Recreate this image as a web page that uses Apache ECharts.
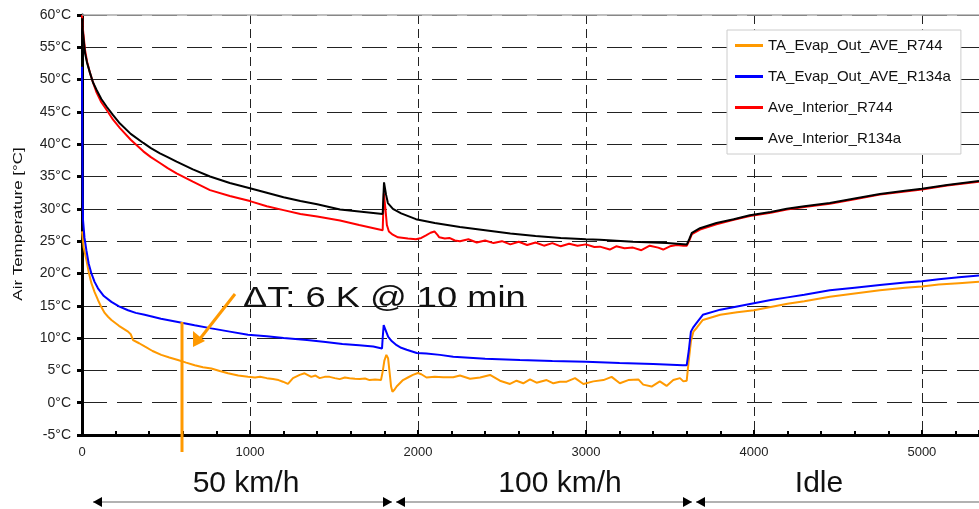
<!DOCTYPE html>
<html>
<head>
<meta charset="utf-8">
<script src="https://cdn.jsdelivr.net/npm/echarts@6/dist/echarts.min.js"></script>
<style>
  html, body { margin: 0; padding: 0; background: #fff; }
  #main { width: 979px; height: 509px; }
</style>
</head>
<body>
<div id="main"></div>
<script type="text/javascript">
// legend names
var seriesNames = ['TA_Evap_Out_AVE_R744', 'TA_Evap_Out_AVE_R134a', 'Ave_Interior_R744', 'Ave_Interior_R134a'];
var seriesColors = ['#ff9900', '#0000ff', '#ff0000', '#000000'];

// [time s, temperature °C]
var evapR744 = [
  [0,26.5],[10,24],[26,22.1],[40,20.2],[56,18.5],[75,17.1],[95,15.9],[115,14.8],[135,13.9],[155,13.3],[175,12.8],
  [220,11.9],[274,11.0],[290,10.6],[304,9.7],[340,9.2],[373,8.7],[420,8.0],[472,7.4],[520,7.0],[571,6.6],[620,6.2],
  [671,5.8],[720,5.5],[770,5.3],[820,4.9],[869,4.55],[930,4.2],[988,4.0],[1030,3.9],[1060,4.0],[1100,3.8],[1137,3.65],
  [1170,3.5],[1196,3.25],[1226,2.9],[1256,3.8],[1296,4.3],[1325,4.55],[1365,4.0],[1390,4.2],[1415,3.8],[1445,4.0],
  [1474,4.0],[1505,3.8],[1534,3.65],[1565,3.9],[1593,3.8],[1625,3.7],[1653,3.65],[1685,3.75],[1712,3.5],[1745,3.6],
  [1780,3.5],[1790,4.8],[1800,6.5],[1812,7.4],[1822,6.9],[1832,4.5],[1840,2.5],[1848,1.7],[1860,2.0],[1873,2.5],
  [1911,3.5],[1940,3.9],[1970,4.3],[2000,4.6],[2020,4.4],[2051,3.9],[2100,4.0],[2150,3.95],[2210,3.95],[2250,4.2],
  [2310,3.7],[2370,3.9],[2429,4.3],[2488,3.4],[2548,2.9],[2587,3.4],[2627,3.0],[2667,3.6],[2706,3.1],[2766,3.5],
  [2806,3.0],[2845,3.25],[2885,3.25],[2935,3.8],[2985,2.9],[3044,3.3],[3104,3.5],[3153,4.0],[3202,3.0],[3252,3.5],
  [3312,3.6],[3341,2.8],[3391,2.5],[3440,3.3],[3480,2.6],[3520,3.5],[3560,3.8],[3580,3.3],[3600,3.4],[3610,6],
  [3625,9.5],[3640,11],[3660,11.6],[3696,12.8],[3800,13.6],[3900,14.0],[4000,14.3],[4100,14.8],[4200,15.3],
  [4300,15.7],[4452,16.4],[4600,16.9],[4750,17.4],[4900,17.8],[5000,18.0],[5100,18.3],[5220,18.5],[5340,18.7]
];

var evapR134a = [
  [0,52],[2,40],[4,32],[6,28.3],[15,25.5],[26,23.6],[40,21.5],[56,20.0],[75,18.7],[95,17.7],[130,16.5],[175,15.6],
  [220,14.9],[274,14.3],[320,13.9],[373,13.6],[470,13.0],[571,12.5],[670,12.0],[770,11.5],[880,11.0],[988,10.5],
  [1100,10.3],[1200,10.0],[1339,9.7],[1450,9.4],[1550,9.1],[1650,8.9],[1734,8.7],[1786,8.4],[1790,10],[1796,12.0],
  [1805,11.4],[1823,10.2],[1845,9.5],[1873,8.9],[1900,8.5],[1933,8.2],[1993,7.7],[2050,7.6],[2131,7.4],[2210,7.1],
  [2400,6.8],[2607,6.6],[2800,6.45],[3000,6.35],[3200,6.15],[3400,6.0],[3577,5.8],[3600,5.8],[3612,8],[3625,11.0],
  [3640,11.7],[3660,12.4],[3696,13.6],[3800,14.4],[3900,14.9],[4000,15.4],[4100,15.9],[4200,16.3],[4300,16.7],
  [4452,17.4],[4600,17.8],[4750,18.2],[4900,18.6],[5000,18.8],[5100,19.1],[5220,19.4],[5340,19.7]
];

var interiorR744 = [
  [0,60],[4,58.2],[18,54.6],[30,52.8],[48,51.0],[65,49.6],[87,48.0],[115,46.5],[147,45.3],[185,43.8],[226,42.5],
  [290,40.7],[365,38.9],[410,38.0],[464,37.1],[510,36.3],[563,35.5],[660,34.2],[762,32.9],[880,32.0],[1000,31.2],
  [1100,30.4],[1200,29.8],[1300,29.2],[1400,28.8],[1536,28.2],[1650,27.5],[1790,26.7],[1797,32.4],[1806,30.1],
  [1815,27.5],[1827,26.5],[1850,26.0],[1881,25.6],[1940,25.4],[1988,25.3],[2020,25.5],[2048,25.9],[2075,26.3],
  [2098,26.5],[2115,26.0],[2127,25.6],[2160,25.4],[2187,25.5],[2220,25.1],[2250,25.0],[2300,25.3],[2350,24.8],
  [2400,25.1],[2450,24.7],[2500,25.0],[2550,24.5],[2600,24.9],[2650,24.4],[2700,24.8],[2750,24.3],[2800,24.7],
  [2850,24.2],[2900,24.6],[2950,24.3],[3000,24.5],[3050,24.1],[3083,24.15],[3142,23.7],[3180,24.2],[3230,23.9],
  [3280,24.0],[3330,23.6],[3380,24.3],[3430,24.0],[3460,23.7],[3500,24.2],[3540,24.4],[3580,24.3],[3601,24.3],
  [3615,25.1],[3631,26.1],[3679,26.8],[3777,27.6],[3880,28.3],[3976,28.9],[4100,29.4],[4196,29.9],[4300,30.3],
  [4452,30.8],[4600,31.5],[4750,32.2],[4900,32.7],[5000,33.0],[5150,33.6],[5340,34.2]
];

var interiorR134a = [
  [0,59.5],[4,57.7],[18,54.1],[30,52.6],[48,51.0],[65,49.6],[87,48.4],[115,47.0],[147,45.8],[185,44.5],[226,43.2],
  [290,41.6],[365,40.2],[410,39.4],[464,38.6],[510,38.0],[563,37.3],[660,36.1],[762,35.0],[880,34.0],[1000,33.2],
  [1100,32.5],[1200,31.8],[1300,31.2],[1400,30.7],[1536,29.9],[1650,29.6],[1790,29.2],[1798,34.1],[1810,32.2],
  [1821,30.9],[1851,30.0],[1900,29.3],[1988,28.4],[2100,27.8],[2250,27.2],[2400,26.7],[2550,26.2],[2700,25.8],
  [2850,25.5],[3000,25.3],[3083,25.2],[3280,24.9],[3482,24.7],[3601,24.5],[3615,25.3],[3631,26.3],[3679,27.0],
  [3777,27.8],[3880,28.4],[3976,29.0],[4100,29.5],[4196,30.0],[4300,30.4],[4452,30.9],[4600,31.6],[4750,32.3],
  [4900,32.8],[5000,33.1],[5150,33.7],[5340,34.3]
];

var seriesData = [evapR744, evapR134a, interiorR744, interiorR134a];

// phase labels under the axis
var phaseLabels = ['50 km/h', '100 km/h', 'Idle'];

var FONT = '"Liberation Sans", Arial, sans-serif';

function arrowHead(x, y, dir, color) {
    // dir = 1 points right, -1 points left
    return {
        type: 'polygon', z: 100,
        shape: { points: [[x, y], [x - dir * 9, y - 5], [x - dir * 9, y + 5]] },
        style: { fill: color }
    };
}

var chart = echarts.init(document.getElementById('main'));

var series = [];
for (var i = 0; i < seriesNames.length; i++) {
    series.push({
        name: seriesNames[i],
        type: 'line',
        data: seriesData[i],
        showSymbol: false,
        symbol: 'none',
        lineStyle: { color: seriesColors[i], width: 2 },
        itemStyle: { color: seriesColors[i] },
        z: 10 + i
    });
}

var graphics = [
    // top border
    { type: 'line', z: 50, shape: { x1: 82, y1: 15, x2: 979, y2: 15 }, style: { stroke: '#aaaaaa', lineWidth: 1.5 } },
    // y axis title
    {
        type: 'text', z: 60, x: 18, y: 224, rotation: Math.PI / 2, scaleX: 1.3,
        style: { text: 'Air Temperature [\u00b0C]', font: '13px ' + FONT, fill: '#111', align: 'center', verticalAlign: 'middle' }
    },
    // 10 min marker
    { type: 'line', z: 60, shape: { x1: 182, y1: 322, x2: 182, y2: 452 }, style: { stroke: '#ff9900', lineWidth: 3 } },
    { type: 'line', z: 60, shape: { x1: 235, y1: 294, x2: 199, y2: 340 }, style: { stroke: '#ff9900', lineWidth: 3 } },
    { type: 'polygon', z: 60, shape: { points: [[193, 347], [193, 331], [205, 341]] }, style: { fill: '#ff9900' } },
    {
        type: 'text', z: 60, x: 243, y: 299, scaleX: 1.25,
        style: { text: '\u0394T: 6 K @ 10 min', font: '29px ' + FONT, fill: '#111', verticalAlign: 'middle' }
    },
    // phase arrows
    { type: 'line', z: 50, shape: { x1: 93, y1: 502, x2: 392, y2: 502 }, style: { stroke: '#666', lineWidth: 1.2 } },
    { type: 'line', z: 50, shape: { x1: 396, y1: 502, x2: 692, y2: 502 }, style: { stroke: '#666', lineWidth: 1.2 } },
    { type: 'line', z: 50, shape: { x1: 696, y1: 502, x2: 979, y2: 502 }, style: { stroke: '#666', lineWidth: 1.2 } },
    arrowHead(93, 502, -1, '#000'), arrowHead(392, 502, 1, '#000'),
    arrowHead(396, 502, -1, '#000'), arrowHead(692, 502, 1, '#000'),
    arrowHead(696, 502, -1, '#000')
];
var phaseX = [246, 560, 819];
for (var k = 0; k < phaseLabels.length; k++) {
    graphics.push({
        type: 'text', z: 60, x: phaseX[k], y: 484,
        style: { text: phaseLabels[k], font: '30px ' + FONT, fill: '#111', align: 'center', verticalAlign: 'middle' }
    });
}

var option = {
    animation: false,
    backgroundColor: '#fff',
    grid: { left: 82, top: 15, right: 0, bottom: 74, containLabel: false },
    legend: {
        data: seriesNames,
        orient: 'vertical',
        left: 727, top: 30,
        padding: [8, 10, 8, 8],
        itemGap: 16,
        itemWidth: 28, itemHeight: 14,
        icon: 'path://M0,0 L28,0 L28,3 L0,3 Z',
        backgroundColor: '#fff',
        borderColor: '#cccccc', borderWidth: 1,
        textStyle: { fontSize: 15, color: '#111', fontFamily: FONT }
    },
    xAxis: {
        type: 'value',
        min: 0, max: 5340, interval: 1000,
        axisLine: { show: true, onZero: false, lineStyle: { color: '#000', width: 3 } },
        axisTick: { show: true, inside: true, length: 5, lineStyle: { color: '#000', width: 2 } },
        minorTick: { show: true, splitNumber: 5, length: 4, lineStyle: { color: '#000', width: 2 } },
        axisLabel: {
            color: '#222', fontSize: 13, margin: 11, showMaxLabel: false, fontFamily: FONT,
            formatter: function (v) { return String(v); }
        },
        splitLine: { show: true, lineStyle: { color: '#222', width: 1, type: [9, 5] } }
    },
    yAxis: {
        type: 'value',
        min: -5, max: 60, interval: 5,
        axisLine: { show: true, lineStyle: { color: '#000', width: 3 } },
        axisTick: { show: true, inside: false, length: 5, lineStyle: { color: '#000', width: 3 } },
        axisLabel: { color: '#222', fontSize: 14, margin: 11, formatter: '{value}\u00b0C', fontFamily: FONT },
        splitLine: { show: true, lineStyle: { color: '#222', width: 1, type: [25, 10] } }
    },
    graphic: graphics,
    series: series
};

chart.setOption(option);
</script>
</body>
</html>
